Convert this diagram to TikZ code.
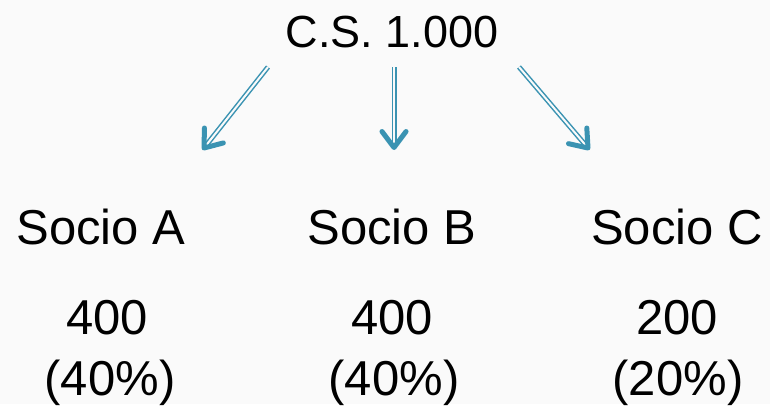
\documentclass[tikz,border=0pt]{standalone}
\usepackage{fontspec}
\setmainfont{Liberation Sans}
\usetikzlibrary{calc}
\definecolor{bgpage}{HTML}{FAFAFA}
\definecolor{socioblue}{HTML}{3A93B2}
\begin{document}
\begin{tikzpicture}[x=1pt, y=-1pt,
	txt/.style={anchor=base, inner sep=0pt, font=\fontsize{49}{58}\selectfont},
	link/.style={draw=socioblue, line width=1.5pt, double=bgpage, double distance=2pt, shorten >=3pt},
	arrowhead/.style={draw=socioblue, line width=5pt, line cap=round, line join=round}]
	% Background of the slide
	\fill[bgpage] (0,0) rectangle (770,404);
	% Capital at the top
	\node[txt, font=\fontsize{45}{54}\selectfont] (cs) at (392,48) {C.S. 1.000};
	% Then the three partners with their shares
	\foreach \x/\name/\lbl/\xa/\amt/\xb/\pct in {101/A/Socio A/107/400/110/(40\%),
			392/B/Socio B/392/400/394/(40\%), 677/C/Socio C/677/200/678/(20\%)}
	{
		\node[txt] (socio\name) at (\x,244) {\lbl};
		\node[txt] (amt\name) at (\xa,334) {\amt};
		\node[txt] (pct\name) at (\xb,395) {\pct};
	}
	% Arrow ends
	\coordinate (tailA) at (268,67);
	\coordinate (tailB) at (394,67);
	\coordinate (tailC) at (519,67);
	\coordinate (headA) at (204,148);
	\coordinate (headB) at (394,147.5);
	\coordinate (headC) at (588,148);
	\foreach \name in {A,B,C}
	{
		\path[link] (tail\name) -- (head\name);
		\path[arrowhead] ($(head\name)!20pt!37:(tail\name)$) -- (head\name)
			-- ($(head\name)!20pt!-37:(tail\name)$);
	}
\end{tikzpicture}
\end{document}
